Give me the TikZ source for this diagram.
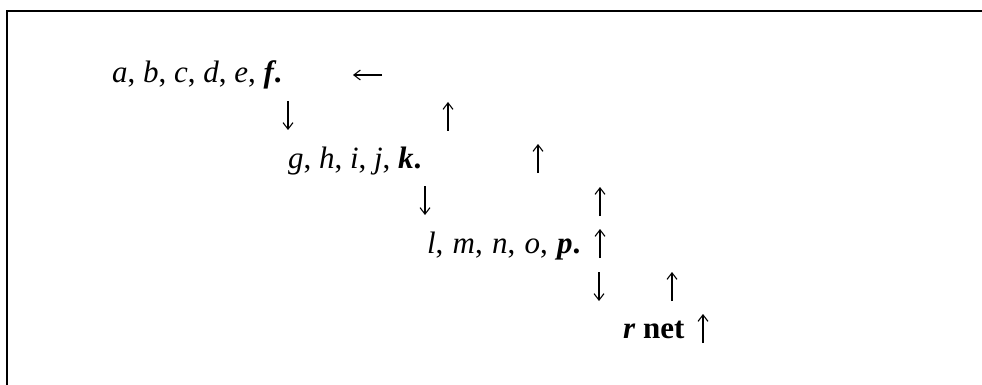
\documentclass[tikz,border=0pt]{standalone}
\usepackage{fontspec}
\setmainfont{Liberation Serif}
\usetikzlibrary{arrows.meta}
\begin{document}
\begin{tikzpicture}[x=1pt,y=-1pt,
  txt/.style={inner sep=0pt,outer sep=0pt,anchor=base west,font=\fontsize{31}{36}\selectfont},
  glyph/.style={line width=1.1pt,-{Straight Barb[length=6.5pt,width=10pt,line width=1.1pt]}}]
  \useasboundingbox (0,0) rectangle (982,385);
  % open frame: left and top rules
  \draw[line width=2pt] (7,386) -- (7,11) -- (983,11);
  % text rows
  \node[txt] (r1) at (112,83) {\textit{a}, \textit{b}, \textit{c}, \textit{d}, \textit{e}, \textbf{\textit{f}.}};
  \node[txt] (r2) at (288,168) {\textit{g}, \textit{h}, \textit{i}, \textit{j}, \textbf{\textit{k}.}};
  \node[txt] (r3) at (427,253) {\textit{l},\hspace{1.5pt} \textit{m},\hspace{1.5pt} \textit{n},\hspace{1.5pt} \textit{o},\hspace{1.5pt} \textbf{\textit{p}.}};
  \node[txt] (r4) at (623,338) {\textbf{\textit{r} net}};
  % arrow glyphs: tail and head points
  \path (382,75)  coordinate (l1a) (353,75)   coordinate (l1b);
  \path (288,101) coordinate (d1a) (288,130)  coordinate (d1b);
  \path (448,131) coordinate (u1a) (448,102)  coordinate (u1b);
  \path (538,173) coordinate (u2a) (538,144)  coordinate (u2b);
  \path (425,186) coordinate (d2a) (425,215)  coordinate (d2b);
  \path (600,216) coordinate (u3a) (600,187)  coordinate (u3b);
  \path (600,258) coordinate (u4a) (600,229)  coordinate (u4b);
  \path (599,272) coordinate (d3a) (599,301)  coordinate (d3b);
  \path (672,301) coordinate (u5a) (672,272)  coordinate (u5b);
  \path (703,343) coordinate (u6a) (703,314)  coordinate (u6b);
  \foreach \a in {l1,d1,u1,u2,d2,u3,u4,d3,u5,u6}
    \draw[glyph] (\a a) -- (\a b);
\end{tikzpicture}
\end{document}
